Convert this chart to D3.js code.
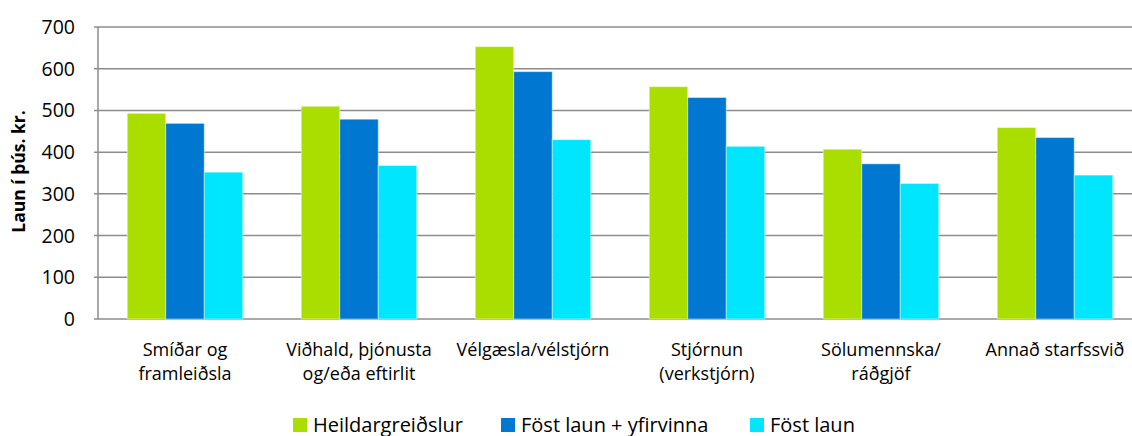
<!DOCTYPE html>
<html>
<head>
<meta charset="UTF-8">
<script src="https://d3js.org/d3.v7.min.js"></script>
<style>
  body { margin: 0; background: #fff; }
  text { font-family: "Open Sans", Lato, sans-serif; fill: #000; }
</style>
</head>
<body>
<svg id="ch" width="1132" height="436"></svg>
<script>
  // categories (line-broken as in the original)
  var categories = [
    ["Smíðar og", "framleiðsla"],
    ["Viðhald, þjónusta", "og/eða eftirlit"],
    ["Vélgæsla/vélstjórn"],
    ["Stjórnun", "(verkstjórn)"],
    ["Sölumennska/", "ráðgjöf"],
    ["Annað starfssvið"]
  ];
  var seriesNames = ["Heildargreiðslur", "Föst laun + yfirvinna", "Föst laun"];
  var heildar = [493, 510, 653, 557, 407, 459];
  var fastYfir = [469, 479, 593, 531, 372, 435];
  var fast = [352, 368, 430, 414, 325, 345];
  var yTicks = [0, 100, 200, 300, 400, 500, 600, 700];
  var colors = ["#aade00", "#0077d0", "#00e6ff"];

  var margin = { top: 27, left: 98 },
    width = 1044,
    height = 292;

  var svg = d3.select("#ch");
  var g = svg.append("g")
    .attr("transform", "translate(" + margin.left + "," + margin.top + ")");

  var x = d3.scaleBand()
    .domain(d3.range(categories.length))
    .range([0, width]);
  var xs = d3.scaleBand()
    .domain(d3.range(3))
    .range([0, x.bandwidth() * 0.664])
  var y = d3.scaleLinear().domain([0, 700]).range([height, 0]);

  // gridlines
  g.selectAll(".grid").data(yTicks).enter().append("line")
    .attr("x1", -4).attr("x2", width)
    .attr("y1", function (d) { return y(d); })
    .attr("y2", function (d) { return y(d); })
    .attr("stroke", "#8c8c8c").attr("stroke-width", 1.5);

  // y axis line
  g.append("line")
    .attr("x1", 0).attr("x2", 0).attr("y1", 0).attr("y2", height)
    .attr("stroke", "#8c8c8c").attr("stroke-width", 1.5);

  g.selectAll(".ytick").data(yTicks).enter().append("text")
    .attr("x", -23)
    .attr("y", function (d) { return y(d); })
    .attr("dy", "0.36em")
    .attr("text-anchor", "end")
    .style("font-size", "19.5px")
    .text(function (d) { return d; });

  // bars
  var series = [heildar, fastYfir, fast];
  var offset = x.bandwidth() * 0.168;
  series.forEach(function (vals, si) {
    g.selectAll(".bar" + si).data(vals).enter().append("rect")
      .attr("x", function (d, i) { return x(i) + offset + xs(si); })
      .attr("width", xs.bandwidth())
      .attr("y", function (d) { return y(d); })
      .attr("height", function (d) { return height - y(d); })
      .attr("fill", colors[si])
      .attr("stroke", "#ffffff").attr("stroke-opacity", 0.45).attr("stroke-width", 1);
  });

  // category labels
  categories.forEach(function (lines, i) {
    var t = g.append("text")
      .attr("x", x(i) + x.bandwidth() / 2)
      .attr("y", height + 37)
      .attr("text-anchor", "middle")
      .style("font-size", "18px");
    lines.forEach(function (l, li) {
      t.append("tspan")
        .attr("x", x(i) + x.bandwidth() / 2)
        .attr("dy", li === 0 ? 0 : 23.5)
        .text(l);
    });
  });

  // y axis title
  svg.append("text")
    .attr("transform", "translate(24.5," + 171.5 + ") rotate(-90)")
    .attr("text-anchor", "middle")
    .style("font-size", "17.5px")
    .style("font-weight", "bold")
    .text("Laun í þús. kr.");

  // legend
  var legendX = [293, 501, 750];
  seriesNames.forEach(function (n, i) {
    svg.append("rect")
      .attr("x", legendX[i]).attr("y", 418)
      .attr("width", 14).attr("height", 14)
      .attr("fill", colors[i]);
    svg.append("text")
      .attr("x", legendX[i] + 20).attr("y", 431.5)
      .style("font-size", "20px")
      .text(n);
  });
</script>
</body>
</html>
